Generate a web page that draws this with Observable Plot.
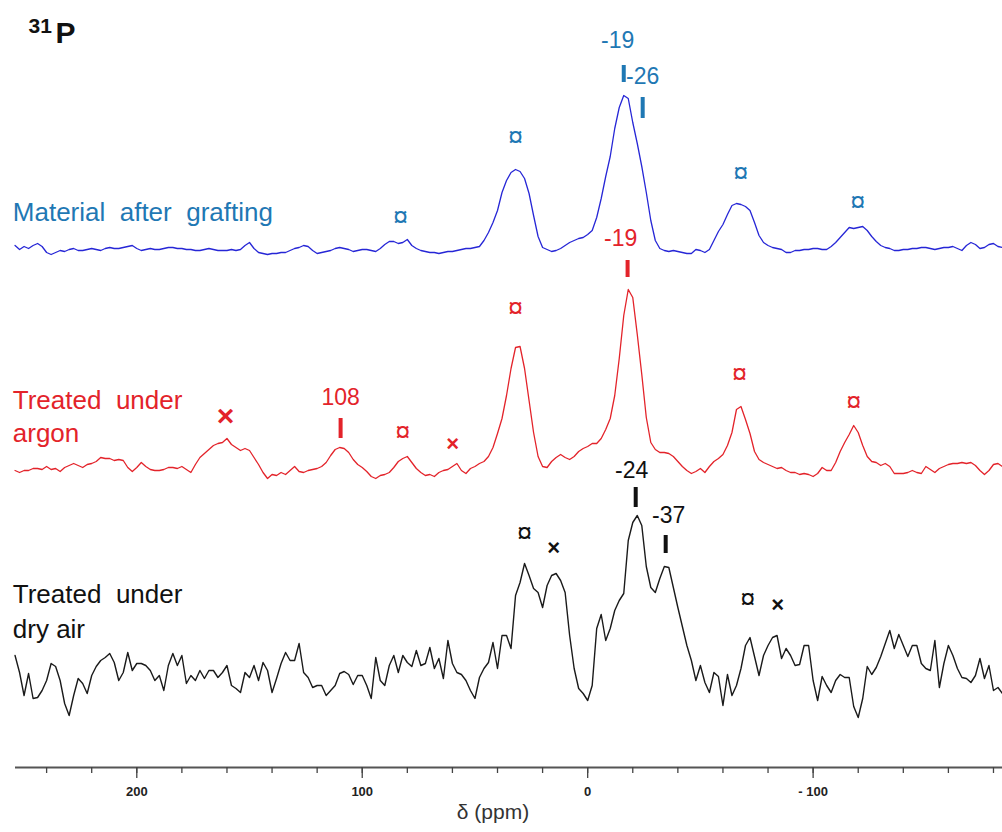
<!DOCTYPE html>
<html><head><meta charset="utf-8">
<script src="https://cdn.jsdelivr.net/npm/d3@7"></script>
<script src="https://cdn.jsdelivr.net/npm/@observablehq/plot@0.6"></script>
<style>
html,body{margin:0;padding:0;background:#fff;}
#chart svg text{white-space:pre;}
</style></head><body><div id="chart"></div>
<script>
// chemical shift grid (ppm), first point and spacing
const ppmStart = 254;
const ppmStep = 2;

// intensities (a.u.), one value per 2 ppm from 254 to -184 ppm
const graftedIntensity = [
 4,0,3,1,4,6,3,-3,-5,-3,-1,-2,0,1,-1,-1,0,1,0,-1,
 1,2,1,1,2,3,4,1,-1,0,1,0,0,1,2,2,1,1,0,0,
 -1,-1,0,1,0,-1,-1,-1,0,-1,0,4,7,1,-3,-4,-5,-4,-4,-3,
 -3,-1,1,2,4,3,-1,-4,-3,-2,-1,1,2,1,0,-2,-1,0,0,-1,
 -2,1,5,8,8,6,7,10,4,1,-1,-2,-3,-3,-4,-3,-2,-2,-1,0,
 1,1,2,3,9,17,27,39,57,69,77,80,78,71,56,34,13,2,0,-2,
 -1,1,4,7,9,11,12,15,19,32,51,73,93,121,142,154,151,127,106,83,
 57,29,9,1,-1,-2,-1,-2,-3,-4,-4,0,-1,-3,0,9,18,25,35,44,
 46,45,43,39,27,14,7,4,2,1,0,-3,-3,-1,-1,0,0,1,1,0,
 0,3,7,12,17,22,21,22,23,19,13,8,4,2,1,-1,-1,0,0,1,
 1,2,2,1,0,1,2,2,3,1,-1,4,7,5,1,2,5,6,3,2
];
const argonIntensity = [
 -4,-6,-4,-4,-2,-2,-3,0,-3,-2,-5,-1,1,3,1,-1,2,3,5,9,
 8,8,6,7,6,-1,-5,-1,4,0,-3,-4,-4,-3,-1,-1,-2,0,-3,-6,
 2,9,13,17,21,23,24,28,22,19,16,18,16,9,2,-6,-12,-8,-9,-6,
 -8,-4,0,-5,-6,-4,-3,-2,0,4,11,17,19,18,14,7,2,-1,-5,-10,
 -12,-9,-8,-6,-1,5,8,10,4,-2,-6,-9,-8,-10,-6,-4,-3,0,3,-4,
 -7,-2,0,3,5,10,19,33,48,71,98,119,120,98,66,34,10,0,-1,5,
 9,12,9,7,10,15,18,20,23,23,28,37,48,71,108,151,177,169,132,92,
 49,24,17,14,14,13,10,5,0,-4,-7,-5,-2,-6,0,5,8,12,21,34,
 57,60,47,33,15,7,4,2,0,-2,-1,-4,-6,-6,-8,-7,-8,-10,-7,-1,
 -4,-4,4,15,24,32,41,34,21,10,5,4,1,3,0,-7,-7,-7,-6,-4,
 -6,-7,0,-3,-6,-2,0,2,3,3,4,3,4,1,-4,-8,-4,2,3,0
];
const dryAirIntensity = [
 20,3,-20,2,-23,-22,-15,-5,12,9,-5,-28,-40,-20,-3,-8,-18,0,9,15,
 18,22,13,-5,3,23,5,12,12,10,5,-5,0,-15,10,22,10,20,-8,0,
 -5,5,-3,5,5,-2,3,10,-10,-13,-17,3,-2,10,-5,13,5,-17,-3,12,
 23,15,15,32,3,-2,-12,-10,-10,-20,-15,-10,2,4,1,-9,0,0,-10,-23,
 18,-5,-10,10,20,3,20,13,9,25,10,12,28,7,17,-3,35,12,3,1,
 -5,-15,-23,-2,7,13,33,7,40,40,27,80,93,112,100,87,83,68,90,100,
 102,95,83,40,7,-13,-18,-25,-10,47,61,35,47,65,75,82,135,153,160,150,
 109,88,83,97,109,108,88,68,49,30,15,-5,10,-7,-17,3,-1,-30,1,-20,
 -10,7,30,38,19,0,20,30,38,40,17,27,20,10,11,30,30,-5,-25,-1,
 -10,-17,-5,1,-2,-2,-31,-42,-23,9,1,8,19,32,45,27,41,30,19,30,
 30,12,7,5,35,-12,12,30,20,7,-2,-3,-7,0,17,-3,10,-15,-12,-18
];

const seriesNames = ["Material  after  grafting", "Treated  under\nargon", "Treated  under\ndry air"];
const seriesOffsets = [518, 301, 92];          // vertical stacking of the spectra (a.u.)
const seriesNameLevel = [46.5, 81.4, 97.8];     // label height above each spectrum
const seriesNameLineHeight = [1, 1.27, 1.35];
const traceColors = ["#2626d6", "#e3232a", "#1a1a1a"];
const labelColors = ["#1f78b4", "#e3232a", "#111111"];

// x axis ticks
const minorTicks = [240,220,200,180,160,140,120,100,80,60,40,20,0,-20,-40,-60,-80,-100,-120,-140,-160,-180];
const majorTicks = [200, 100, 0, -100];
const axisTitle = "δ (ppm)";

// annotations: series, text, ppm, height above the spectrum baseline
const peakLabels = [
 {s:0, t:"-19", ppm:-13.3, h:209, a:"middle"},
 {s:0, t:"-26", ppm:-24.4, h:173, a:"start"},
 {s:1, t:"-19", ppm:-14.6, h:228, a:"middle"},
 {s:1, t:"108", ppm:109.6, h:69, a:"middle"},
 {s:2, t:"-24", ppm:-19.5, h:205, a:"middle"},
 {s:2, t:"-37", ppm:-35.9, h:160, a:"middle"}
];
const peakBars = [
 {s:0, ppm:-16, h1:167, h2:184},
 {s:0, ppm:-24.4, h1:131, h2:152},
 {s:1, ppm:-17.7, h1:189, h2:206},
 {s:1, ppm:109.6, h1:28, h2:48},
 {s:2, ppm:-21.3, h1:168, h2:188},
 {s:2, ppm:-34.6, h1:122, h2:140}
];
const sidebandMarks = [
 {s:0, ppm:83, h:32}, {s:0, ppm:32, h:112}, {s:0, ppm:-67.9, h:76}, {s:0, ppm:-119.8, h:47},
 {s:1, ppm:82, h:34}, {s:1, ppm:32, h:158}, {s:1, ppm:-67.4, h:92}, {s:1, ppm:-118, h:64},
 {s:2, ppm:28, h:142}, {s:2, ppm:-71, h:76}
];
const crossMarks = [
 {s:1, ppm:160.6, h:50, size:30},
 {s:1, ppm:59.9, h:23, size:22},
 {s:2, ppm:15.1, h:128, size:22},
 {s:2, ppm:-84.3, h:71, size:22}
];

const spectra = [graftedIntensity, argonIntensity, dryAirIntensity];
const table = spectra.flatMap((arr, s) => arr.map((v, i) => ({s, ppm: ppmStart - i * ppmStep, y: seriesOffsets[s] + v})));
const nameRows = seriesNames.map((t, s) => ({s, t, ppm: 255, y: seriesOffsets[s] + seriesNameLevel[s]}));
const lift = d => seriesOffsets[d.s] + d.h;

const marks = [
  Plot.ruleY([0], {stroke: "#555", strokeWidth: 2.2}),
  Plot.axisX(minorTicks, {tickSize: 6, stroke: "#444", strokeWidth: 1.3, tickFormat: () => "", label: null}),
  Plot.axisX(majorTicks, {tickSize: 11, tickPadding: 8, stroke: "#444", strokeWidth: 1.3, fontSize: 13, fontWeight: "bold", fill: "#222",
    tickFormat: d => d < 0 ? "- " + (-d) : String(d), label: null}),
  Plot.text([axisTitle], {x: () => 42, frameAnchor: "bottom", dy: 51, fontSize: 21, fill: "#333"}),
];
for (let s = 0; s < 3; s++) {
  marks.push(Plot.line(table.filter(d => d.s === s), {x: "ppm", y: "y", stroke: traceColors[s], strokeWidth: s === 2 ? 1.4 : 1.3}));
  marks.push(Plot.text(nameRows.filter(d => d.s === s), {x: "ppm", y: "y", text: "t", textAnchor: "start", lineAnchor: "top",
    lineHeight: seriesNameLineHeight[s], fontSize: 26, fill: labelColors[s]}));
}
for (let s = 0; s < 3; s++) {
  marks.push(Plot.text(peakLabels.filter(d => d.s === s), {x: "ppm", y: lift, text: "t", textAnchor: d => d.a, fontSize: 23, fill: labelColors[s]}));
  marks.push(Plot.ruleX(peakBars.filter(d => d.s === s), {x: "ppm", y1: d => seriesOffsets[d.s] + d.h1, y2: d => seriesOffsets[d.s] + d.h2, stroke: labelColors[s], strokeWidth: 4}));
  marks.push(Plot.text(sidebandMarks.filter(d => d.s === s), {x: "ppm", y: lift, text: () => "¤", fontSize: 27, fill: labelColors[s]}));
  marks.push(Plot.text(crossMarks.filter(d => d.s === s), {x: "ppm", y: lift, text: () => "×", fontSize: d => d.size, fontWeight: "bold", fill: labelColors[s]}));
}
marks.push(Plot.text(["31"], {frameAnchor: "top-left", dx: 13, dy: 17.5, lineAnchor: "top", textAnchor: "start", fontSize: 21, fontWeight: "bold", fill: "#111"}));
marks.push(Plot.text(["P"], {frameAnchor: "top-left", dx: 40, dy: 20.7, lineAnchor: "top", textAnchor: "start", fontSize: 30, fontWeight: "bold", fill: "#111"}));

const chart = Plot.plot({
  width: 1002, height: 832,
  marginLeft: 15, marginRight: 0, marginTop: 0, marginBottom: 65,
  style: {fontFamily: "'Liberation Sans', Arial, sans-serif", background: "#fff", overflow: "visible"},
  x: {domain: [253.8, -184]},
  y: {domain: [0, 767], axis: null},
  marks
});
document.getElementById("chart").appendChild(chart);
</script></body></html>
